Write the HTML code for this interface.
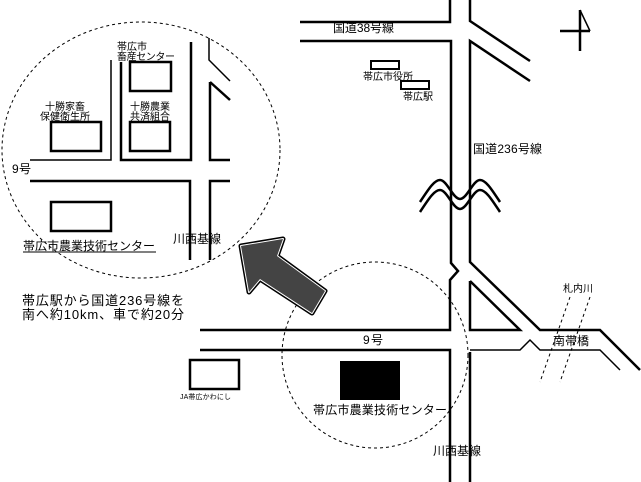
<!DOCTYPE html>
<html><head><meta charset="utf-8"><style>
html,body{margin:0;padding:0;background:#fff;}
svg{display:block;}
text{font-family:"Liberation Sans","Noto Sans CJK JP",sans-serif;fill:#000;}
</style></head><body>
<svg width="641" height="482" viewBox="0 0 641 482" xmlns="http://www.w3.org/2000/svg">
<g fill="none" stroke="#000" stroke-width="2.5">
<polyline points="111,60 111,160 30,160" stroke-width="1.5"/>
<polyline points="121,62 121,160 191,160 191,42"/>
<polyline points="30,181 190,181 190,260"/>
<polyline points="210,260 210,181 230,181"/>
<polyline points="210,82 210,160 230,160"/>
<polyline points="209,38 209,60 230,81" stroke-width="1.5"/>
<line x1="210" y1="82" x2="230" y2="100"/>
<rect x="130" y="62" width="41" height="29"/>
<rect x="130" y="122" width="40" height="29"/>
<rect x="51" y="122" width="50" height="29"/>
<rect x="51" y="202" width="60" height="29"/>
<polyline points="300,22 450,22 450,0"/>
<polyline points="300,41 451,41 451,263 458,271 450,280 450,330 200,330"/>
<polyline points="200,350 450,350 450,482"/>
<polyline points="470,0 470,21 530,61"/>
<polyline points="530,81 470,41 470,262 540,330 600,330 640,370"/>
<polyline points="470,281 520,330 470,330 470,281"/>
<polyline points="470,352 470,482"/>
<polyline points="470,350 520,350 530,340 540,350 600,350 620,370" stroke-width="1.5"/>
<path d="M420,202 C428,190 434,180 440,180 C447,180 453,199 460,199 C467,199 473,180 480,180 C486,180 492,190 500,202"/>
<path d="M420,212 C428,200 434,190 440,190 C447,190 453,209 460,209 C467,209 473,190 480,190 C486,190 492,200 500,212"/>
<rect x="371" y="61" width="28" height="8" stroke-width="2"/>
<rect x="401" y="81" width="28" height="8" stroke-width="2"/>
<line x1="580" y1="10" x2="580" y2="51"/>
<line x1="560" y1="31" x2="590" y2="31"/>
<polyline points="580,10 590,31" stroke-width="1.5"/>
<rect x="190" y="360" width="49" height="29"/>
</g>
<g fill="none" stroke="#000" stroke-width="1" stroke-dasharray="3,3">
<ellipse cx="141" cy="150" rx="139" ry="128"/>
<ellipse cx="375" cy="355" rx="93" ry="93"/>
<line x1="570" y1="297" x2="540" y2="382"/>
<line x1="590" y1="297" x2="560" y2="382"/>
</g>
<rect x="340" y="361" width="60" height="39" fill="#000"/>
<polygon points="241,246 283,239 277,256 325,291 312,313 260,279 249,292" fill="#444" stroke="#000" stroke-width="5" stroke-linejoin="round"/>
<polygon points="241,246 283,239 277,256 325,291 312,313 260,279 249,292" fill="#444" stroke="#fff" stroke-width="2" stroke-linejoin="round"/>
<polygon points="241,246 283,239 277,256 325,291 312,313 260,279 249,292" fill="#444"/>
<g font-size="10">
<text x="117" y="50">帯広市</text>
<text x="117" y="60" textLength="58">畜産センター</text>
<text x="45" y="110">十勝家畜</text>
<text x="40" y="120">保健衛生所</text>
<text x="130" y="110">十勝農業</text>
<text x="130" y="120">共済組合</text>
<text x="363" y="80">帯広市役所</text>
<text x="403" y="100">帯広駅</text>
<text x="563" y="292">札内川</text>
</g>
<g font-size="12">
<text x="12" y="173" textLength="19">9号</text>
<text x="173" y="243">川西基線</text>
<text x="333" y="32" textLength="61">国道38号線</text>
<text x="473" y="153" textLength="69">国道236号線</text>
<text x="363" y="344" textLength="20">9号</text>
<text x="553" y="345">南帯橋</text>
<text x="433" y="455">川西基線</text>
<text x="313" y="414" textLength="134">帯広市農業技術センター</text>
<text x="23" y="250" textLength="132">帯広市農業技術センター</text>
</g>
<line x1="23" y1="252" x2="156" y2="252" stroke="#000" stroke-width="1"/>
<text x="180" y="399" font-size="7" textLength="51">JA帯広かわにし</text>
<g font-size="13">
<text x="22" y="305" textLength="162">帯広駅から国道236号線を</text>
<text x="22" y="319" textLength="162">南へ約10km、車で約20分</text>
</g>
</svg>
</body></html>
